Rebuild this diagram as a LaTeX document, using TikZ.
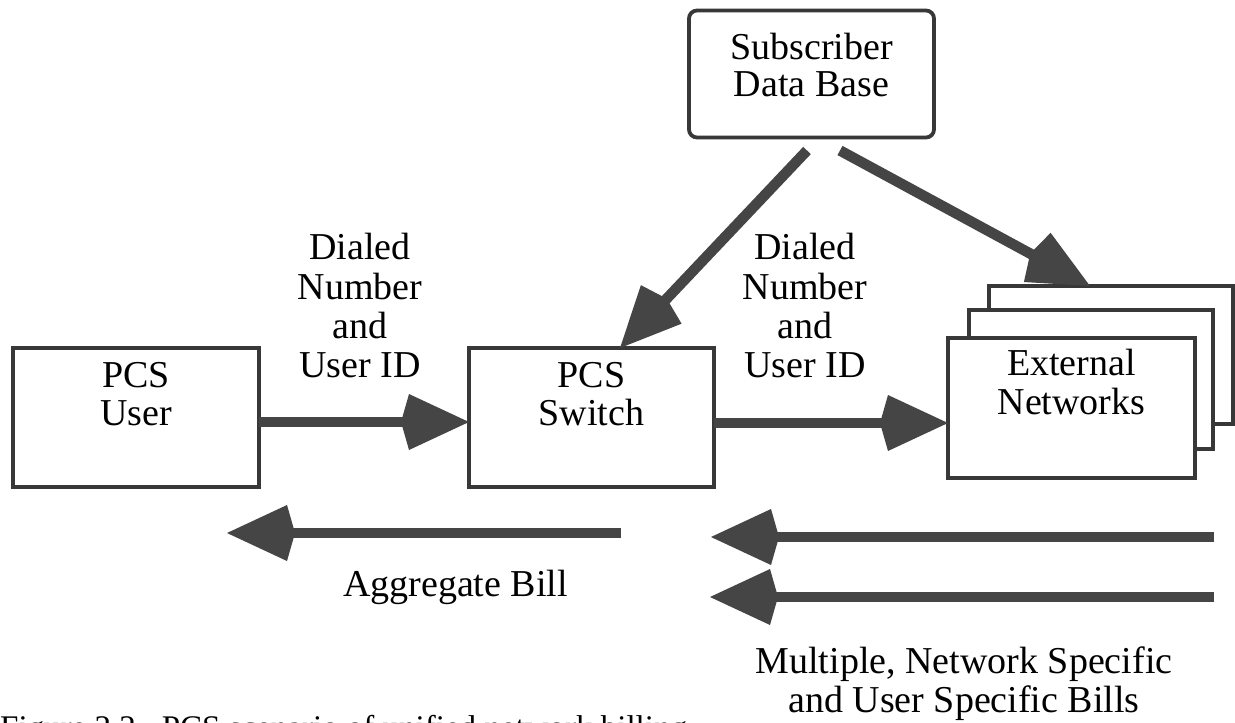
\documentclass[tikz,border=0pt]{standalone}
\usepackage{fontspec}
\setmainfont{Liberation Serif}
\usetikzlibrary{arrows.meta}
\definecolor{boxc}{gray}{0.22}
\definecolor{arrc}{gray}{0.27}
\begin{document}
\begin{tikzpicture}[x=1pt,y=-1pt,
  box/.style={draw=boxc, line width=3.8pt, inner sep=0pt, outer sep=0pt, fill=white},
  txt/.style={font=\fontsize{38}{40}\selectfont, anchor=base, inner sep=0pt},
  fat/.style={draw=arrc, line width=10.5pt, line cap=butt,
    -{Kite[length=68pt,width=56pt,inset=8pt,line width=0pt]}},
]
\useasboundingbox (0,0) rectangle (1235,723);
\clip (0,0) rectangle (1235,723);
\fill[white] (0,0) rectangle (1235,723);

% boxes
\node[box, minimum width=246pt, minimum height=139pt] (user) at (136,417.5) {};
\node[box, minimum width=245pt, minimum height=139pt] (sw) at (591.5,417.5) {};
\node[box, rounded corners=8pt, minimum width=245pt, minimum height=127pt] (sdb) at (811.5,74) {};
\node[box, minimum width=244pt, minimum height=138pt] (ext3) at (1111,355) {};
\node[box, minimum width=244pt, minimum height=139pt] (ext2) at (1091,379.5) {};
\node[box, minimum width=247pt, minimum height=140pt] (ext1) at (1071.5,408) {};

% box texts
\node[txt] (userA) at (136,387) {PCS};
\node[txt] (userB) at (136,425) {User};
\node[txt] (swA) at (591.5,387) {PCS};
\node[txt] (swB) at (591.5,425) {Switch};
\node[txt] (sdbA) at (811.5,59) {Subscriber};
\node[txt] (sdbB) at (811.5,96) {Data Base};
\node[txt] (extA) at (1071.5,375) {External};
\node[txt] (extB) at (1071.5,414) {Networks};

% connector labels
\node[txt] (l1a) at (360,259) {Dialed};
\node[txt] (l1b) at (360,299) {Number};
\node[txt] (l1c) at (360,338) {and};
\node[txt] (l1d) at (360,377) {User ID};
\node[txt] (l2a) at (805,259) {Dialed};
\node[txt] (l2b) at (805,299) {Number};
\node[txt] (l2c) at (805,338) {and};
\node[txt] (l2d) at (805,377) {User ID};
\node[txt] (agg) at (455.5,596) {Aggregate Bill};
\node[txt] (mulA) at (964,673) {Multiple, Network Specific};
\node[txt] (mulB) at (964,712) {and User Specific Bills};

% caption (cut off by the page edge, as in the reference)
\node[anchor=base west, inner sep=0pt, font=\fontsize{33}{35}\selectfont] (cap) at (0,738)
  {Figure 2.2\hspace{26pt}PCS scenario of unified network billing};

% connectors
\draw[fat] ([yshift=-4.5pt]user.east) -- ([yshift=-4.5pt]sw.west);
\coordinate (a2s) at ([yshift=-5.5pt]sw.east);
\draw[fat] (a2s) -- (a2s -| ext1.west);
\coordinate (d1s) at ([xshift=-4.5pt,yshift=-13pt]sdb.south);
\draw[fat] (d1s) -- ([xshift=28.5pt]sw.north);
\coordinate (d2s) at ([xshift=28.5pt,yshift=-13pt]sdb.south);
\draw[fat] (d2s) -- ([xshift=-21pt]ext3.north);

% bill arrows
\coordinate (b0s) at (621,533);
\coordinate (b0e) at (227,533);
\coordinate (b1s) at (1214,537);
\coordinate (b1e) at (711,537);
\coordinate (b2s) at (1214,597);
\coordinate (b2e) at (710,597);
\draw[fat] (b0s) -- (b0e);
\draw[fat] (b1s) -- (b1e);
\draw[fat] (b2s) -- (b2e);
\end{tikzpicture}
\end{document}
